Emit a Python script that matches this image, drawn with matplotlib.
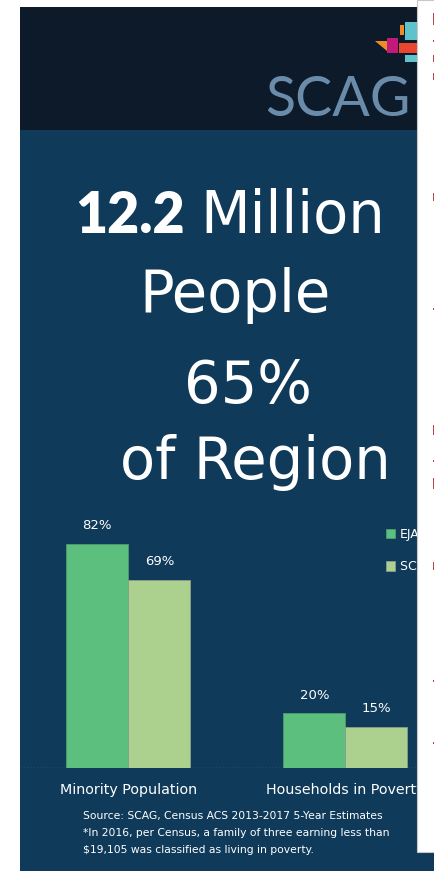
import matplotlib.pyplot as plt
from matplotlib.patches import Rectangle, Polygon
import numpy as np

plt.rcParams['font.family'] = ['DejaVu Sans']

# data
categories = ['Minority Population', 'Households in Poverty']
eja_values = [82, 20]
region_values = [69, 15]
series_names = ['EJA', 'SCAG Region']
value_labels_eja = ['82%', '20%']
value_labels_region = ['69%', '15%']

W, H = 434, 871
fig = plt.figure(figsize=(W / 100, H / 100), dpi=100)
fig.patch.set_facecolor('white')

# background layer in pixel coords (y down)
bg = fig.add_axes([0, 0, 1, 1], zorder=0)
bg.set_xlim(0, W)
bg.set_ylim(H, 0)
bg.axis('off')

navy = '#0f3a59'
bg.add_patch(Rectangle((20, 130), W - 20, H - 130, color=navy, lw=0))
bg.add_patch(Rectangle((20, 7), W - 20, 123, color='#0c1a29', lw=0))

# logo
bg.text(338, 116, 'SCAG', color='#6a8caa', fontsize=40, family='Lato', ha='center', va='baseline')
bg.add_patch(Polygon([(375, 41), (387, 41), (387, 51)], color='#f08a24', lw=0))
bg.add_patch(Rectangle((387, 38), 11, 15, color='#c2197c', lw=0))
bg.add_patch(Rectangle((399, 43), 18, 10, color='#e9452f', lw=0))
bg.add_patch(Rectangle((400, 25), 4, 10, color='#f08a24', lw=0))
bg.add_patch(Rectangle((405, 22), 12, 18, color='#5fc3cc', lw=0))
bg.add_patch(Rectangle((405, 55), 12, 7, color='#5fc3cc', lw=0))

# headline
bg.text(130, 233, '12.2', color='white', fontsize=40, family='Lato', fontweight='heavy',
        ha='center', va='baseline')
bg.text(293, 233, 'Million', color='white', fontsize=41.5, ha='center', va='baseline')
bg.text(235, 312, 'People', color='white', fontsize=41.5, ha='center', va='baseline')
bg.text(248, 403, '65%', color='white', fontsize=41.5, ha='center', va='baseline')
bg.text(255, 479, 'of Region', color='white', fontsize=41.5, ha='center', va='baseline')

# source notes
notes = ['Source: SCAG, Census ACS 2013-2017 5-Year Estimates',
         '*In 2016, per Census, a family of three earning less than',
         '$19,105 was classified as living in poverty.']
for i, line in enumerate(notes):
    bg.text(83, 819 + 17 * i, line, color='white', fontsize=7.75, ha='left', va='baseline')

# bar chart
px = lambda x, y: (x / W, 1 - y / H)
left, bottom = px(20, 768)
ax = fig.add_axes([left, bottom, (417 - 20) / W, 273 / H], zorder=1)
ax.patch.set_alpha(0)
x = np.arange(len(categories))
w = 0.2857
b1 = ax.bar(x - w / 2, eja_values, w, color='#5dbf7e', edgecolor='#4e9d6d', lw=0.6, label=series_names[0])
b2 = ax.bar(x + w / 2, region_values, w, color='#acd18e', edgecolor='#8c9c8c', lw=0.6, label=series_names[1])
ax.bar_label(b1, labels=value_labels_eja, padding=8.5, color='white', fontsize=9.5)
ax.bar_label(b2, labels=value_labels_region, padding=8.5, color='white', fontsize=9.5)
ax.set_xlim(-0.499, 1.330)
ax.set_ylim(0, 100)
ax.axhline(0, color='#9aa9b5', ls=':', lw=0.9)
ax.set_xticks(x, categories)
ax.tick_params(axis='x', length=0, pad=11, labelsize=10.3, labelcolor='white')
ax.set_yticks([])
for s in ax.spines.values():
    s.set_visible(False)
ax.legend(loc='upper left', bbox_to_anchor=px(386, 528), bbox_transform=fig.transFigure,
          frameon=False, fontsize=9, labelcolor='white', handlelength=0.75, handleheight=0.75,
          handletextpad=0.35, labelspacing=1.55, borderpad=0, borderaxespad=0)

# right side white panel (next page) on top
ov = fig.add_axes([0, 0, 1, 1], zorder=2)
ov.set_xlim(0, W)
ov.set_ylim(H, 0)
ov.axis('off')
ov.add_patch(Rectangle((417, 0), 20, 852, facecolor='white', edgecolor='#c8c8c8', lw=0.8))
# red slivers of the neighbouring page
frag_y = [13, 40, 55, 73, 193, 308, 425, 460, 478, 562, 680, 742]
frag_h = [12, 2, 7, 7, 8, 2, 10, 2, 11, 8, 2, 2]
for fy, fh in zip(frag_y, frag_h):
    ov.add_patch(Rectangle((432.5, fy), 1.5, fh, color='#b8454c', lw=0))

plt.savefig('out.png', dpi=100)
